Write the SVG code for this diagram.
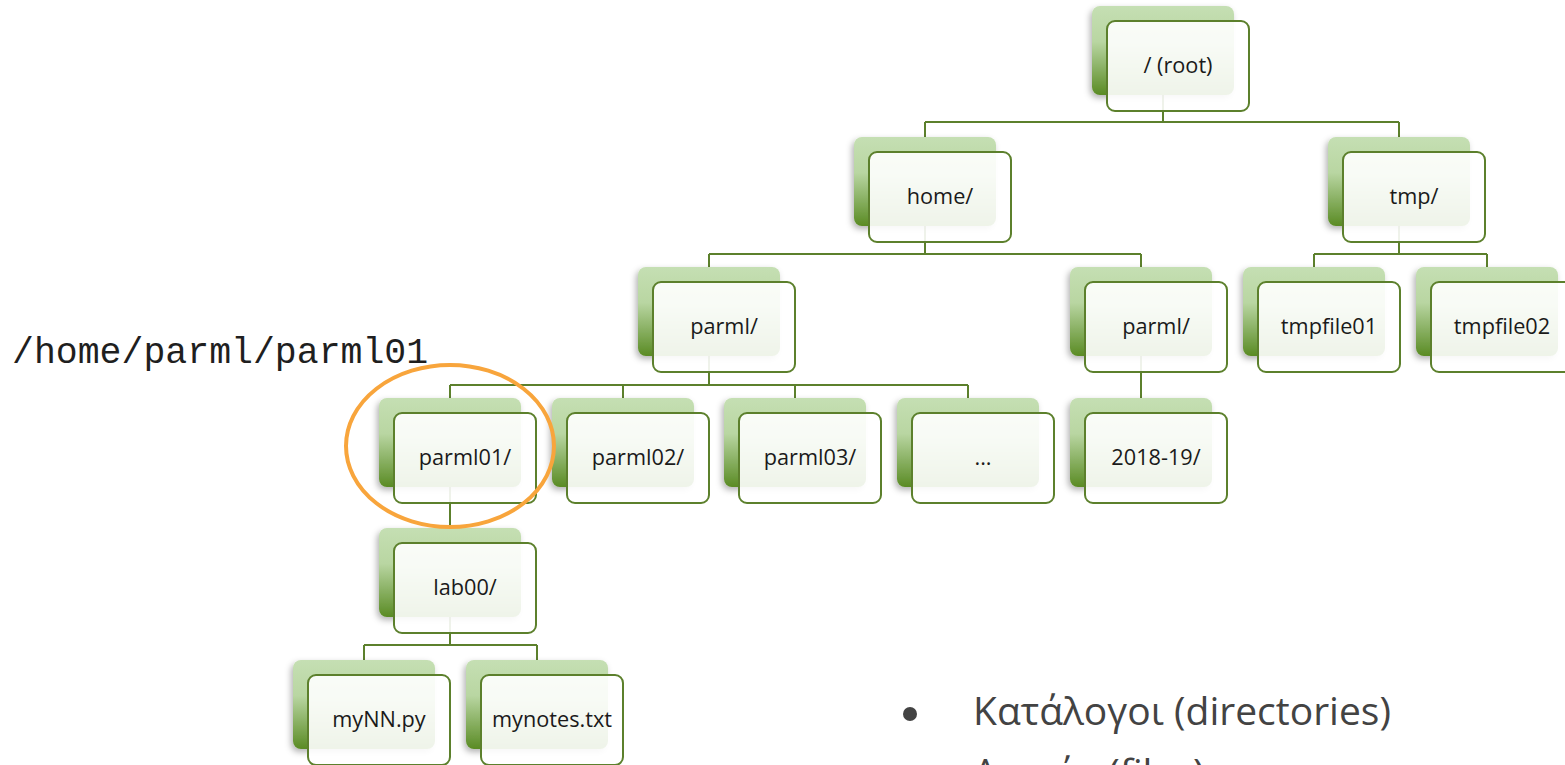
<svg xmlns="http://www.w3.org/2000/svg" width="1565" height="765" viewBox="0 0 1565 765">
<style>
.back{fill:url(#gback);filter:url(#shadow)}
.front{fill:#ffffff;fill-opacity:0.9;stroke:#5c802c;stroke-width:2}
.lbl{font-family:"Open Sans","Noto Sans",sans-serif;font-size:21.7px;fill:#1a1a1a;text-anchor:middle}
.conn{stroke:#5c802c;stroke-width:2;fill:none}
.bul{font-family:"Open Sans","Noto Sans",sans-serif;font-size:39px;fill:#434343}
</style>
<defs>
<linearGradient id="gback" x1="0" y1="0" x2="0" y2="1">
<stop offset="0" stop-color="#c5dfb3"/>
<stop offset="0.4" stop-color="#b9d6a2"/>
<stop offset="1" stop-color="#5a8b24"/>
</linearGradient>
<filter id="shadow" x="-20%" y="-20%" width="140%" height="150%">
<feDropShadow dx="-2" dy="3" stdDeviation="3" flood-color="#000" flood-opacity="0.3"/>
</filter>
</defs>
<g id="connectors">
<path class="conn" d="M1163 95V122M925 122H1399M925 122V137M1399 122V137"/>
<path class="conn" d="M925 226V254M709 254H1141M709 254V267M1141 254V267"/>
<path class="conn" d="M1399 226V254M1314 254H1487M1314 254V267M1487 254V267"/>
<path class="conn" d="M709 356V385M450 385H968M450 385V398M623 385V398M795 385V398M968 385V398"/>
<path class="conn" d="M1141 356V398"/>
<path class="conn" d="M450 487V528"/>
<path class="conn" d="M450 617V645M364 645H537M364 645V660M537 645V660"/>
</g>
<g id="root"><rect class="back" x="1092" y="6" width="142" height="89" rx="8"/><rect class="front" x="1107" y="21" width="142" height="90" rx="8"/><text class="lbl" x="1178" y="72.5">/ (root)</text></g>
<g id="home"><rect class="back" x="854" y="137" width="142" height="89" rx="8"/><rect class="front" x="869" y="152" width="142" height="90" rx="8"/><text class="lbl" x="940" y="203.5">home/</text></g>
<g id="tmp"><rect class="back" x="1328" y="137" width="142" height="89" rx="8"/><rect class="front" x="1343" y="152" width="142" height="90" rx="8"/><text class="lbl" x="1414" y="203.5">tmp/</text></g>
<g id="parml_home"><rect class="back" x="638" y="267" width="142" height="89" rx="8"/><rect class="front" x="653" y="282" width="142" height="90" rx="8"/><text class="lbl" x="724" y="333.5">parml/</text></g>
<g id="parml_right"><rect class="back" x="1070" y="267" width="142" height="89" rx="8"/><rect class="front" x="1085" y="282" width="142" height="90" rx="8"/><text class="lbl" x="1156" y="333.5">parml/</text></g>
<g id="tmpfile01"><rect class="back" x="1243" y="267" width="142" height="89" rx="8"/><rect class="front" x="1258" y="282" width="142" height="90" rx="8"/><text class="lbl" x="1329" y="333.5">tmpfile01</text></g>
<g id="tmpfile02"><rect class="back" x="1416" y="267" width="142" height="89" rx="8"/><rect class="front" x="1431" y="282" width="142" height="90" rx="8"/><text class="lbl" x="1502" y="333.5">tmpfile02</text></g>
<g id="parml01"><rect class="back" x="379" y="398" width="142" height="89" rx="8"/><rect class="front" x="394" y="413" width="142" height="90" rx="8"/><text class="lbl" x="465" y="464.5">parml01/</text></g>
<g id="parml02"><rect class="back" x="552" y="398" width="142" height="89" rx="8"/><rect class="front" x="567" y="413" width="142" height="90" rx="8"/><text class="lbl" x="638" y="464.5">parml02/</text></g>
<g id="parml03"><rect class="back" x="724" y="398" width="142" height="89" rx="8"/><rect class="front" x="739" y="413" width="142" height="90" rx="8"/><text class="lbl" x="810" y="464.5">parml03/</text></g>
<g id="ellipsis"><rect class="back" x="897" y="398" width="142" height="89" rx="8"/><rect class="front" x="912" y="413" width="142" height="90" rx="8"/><text class="lbl" x="983" y="464.5">...</text></g>
<g id="y2018"><rect class="back" x="1070" y="398" width="142" height="89" rx="8"/><rect class="front" x="1085" y="413" width="142" height="90" rx="8"/><text class="lbl" x="1156" y="464.5">2018-19/</text></g>
<g id="lab00"><rect class="back" x="379" y="528" width="142" height="89" rx="8"/><rect class="front" x="394" y="543" width="142" height="90" rx="8"/><text class="lbl" x="465" y="594.5">lab00/</text></g>
<g id="myNN"><rect class="back" x="293" y="660" width="142" height="89" rx="8"/><rect class="front" x="308" y="675" width="142" height="90" rx="8"/><text class="lbl" x="379" y="726.5">myNN.py</text></g>
<g id="mynotes"><rect class="back" x="466" y="660" width="142" height="89" rx="8"/><rect class="front" x="481" y="675" width="142" height="90" rx="8"/><text class="lbl" x="552" y="726.5">mynotes.txt</text></g>
<g id="path_label"><text x="12" y="363" font-family="'Liberation Mono','Courier New',monospace" font-size="36.5" fill="#1f1f1f">/home/parml/parml01</text></g>
<g id="highlight"><ellipse cx="450" cy="446" rx="104" ry="81" fill="none" stroke="#f8a53c" stroke-width="4"/></g>
<g id="legend">
<circle cx="910" cy="714" r="7" fill="#434343"/>
<text class="bul" x="973" y="725">Κατάλογοι (directories)</text>
<circle cx="910" cy="776" r="7" fill="#434343"/>
<text class="bul" x="973" y="787">Αρχεία (files)</text>
</g>
</svg>
